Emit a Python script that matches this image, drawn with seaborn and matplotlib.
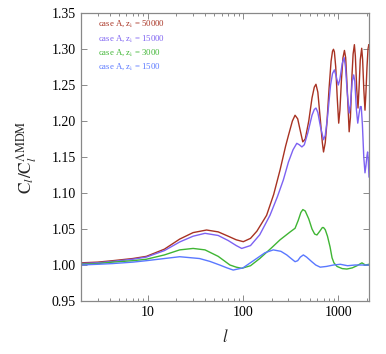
import numpy as np
import pandas as pd
import matplotlib
matplotlib.use("Agg")
import matplotlib.pyplot as plt
import seaborn as sns
from matplotlib.ticker import FixedLocator, FixedFormatter, NullFormatter, LogLocator

# values
l_50000 = [2, 3, 4.3, 7, 9.7, 15, 21.7, 30, 41.5, 55, 70, 85, 100.8, 120, 140, 177, 210, 245,
           280, 300, 330, 352, 375, 400, 424, 450, 490, 530, 560, 583, 610, 650, 680,
           700, 730, 760, 800, 840, 870, 890, 910, 940, 975, 1010, 1040, 1080, 1120, 1160,
           1195, 1240, 1300, 1340, 1390, 1430, 1475, 1510, 1560, 1610, 1650, 1700, 1760,
           1800, 1850, 1905, 1950, 2000, 2050, 2090, 2100]
r_50000 = [1.003, 1.004, 1.006, 1.009, 1.012, 1.022, 1.036, 1.045, 1.0486, 1.046, 1.040, 1.035, 1.0324, 1.037, 1.047, 1.069, 1.098, 1.132,
           1.165, 1.180, 1.200, 1.208, 1.203, 1.186, 1.171, 1.175, 1.200, 1.232, 1.247, 1.251, 1.240, 1.200, 1.170,
           1.157, 1.170, 1.198, 1.245, 1.283, 1.297, 1.2996, 1.296, 1.275, 1.232, 1.197, 1.215, 1.258, 1.288, 1.298,
           1.288, 1.245, 1.185, 1.205, 1.262, 1.293, 1.306, 1.290, 1.245, 1.218, 1.245, 1.285, 1.301,
           1.285, 1.245, 1.215, 1.240, 1.275, 1.300, 1.306, 1.305]

l_15000 = [2, 3, 4.3, 7, 9.7, 15, 21.7, 30, 40, 55, 70, 85, 97, 120, 150, 192, 230, 265,
           300, 335, 367, 390, 415, 440, 480, 530, 560, 583, 610, 650, 700, 730, 770, 830,
           870, 910, 950, 1000, 1040, 1100, 1150, 1190, 1240, 1300, 1340, 1400, 1450, 1490,
           1550, 1600, 1650, 1700, 1740, 1790, 1850, 1905, 1950, 2000, 2030, 2060, 2100]
r_15000 = [1.002, 1.003, 1.005, 1.008, 1.011, 1.020, 1.032, 1.040, 1.044, 1.041, 1.034, 1.027, 1.023, 1.027, 1.042, 1.069, 1.095, 1.118,
           1.143, 1.160, 1.169, 1.167, 1.164, 1.167, 1.184, 1.208, 1.216, 1.218, 1.212, 1.192, 1.174, 1.180, 1.205, 1.250,
           1.266, 1.271, 1.262, 1.250, 1.258, 1.280, 1.288, 1.275, 1.240, 1.211, 1.222, 1.255, 1.264, 1.255,
           1.215, 1.197, 1.210, 1.220, 1.220, 1.195, 1.150, 1.128, 1.138, 1.152, 1.157, 1.148, 1.122]

l_3000 = [2, 3, 4.3, 7, 9.7, 15, 21.7, 30, 40, 55, 73, 85, 97, 120, 150, 200, 245, 313,
          352, 380, 405, 425, 450, 490, 530, 565, 597, 640, 680, 700, 730, 770, 820, 860,
          900, 970, 1100, 1230, 1400, 1570, 1770, 1920, 2100]
r_3000 = [1.001, 1.002, 1.004, 1.006, 1.008, 1.014, 1.021, 1.023, 1.021, 1.012, 1.000, 0.997, 0.9954, 0.999, 1.009, 1.024, 1.035, 1.046,
          1.051, 1.062, 1.073, 1.077, 1.075, 1.064, 1.050, 1.043, 1.0417, 1.047, 1.052, 1.052, 1.049, 1.040, 1.025, 1.010,
          1.003, 0.998, 0.995, 0.9944, 0.996, 0.999, 1.003, 1.000, 1.001]

l_1500 = [2, 3, 4.3, 7, 9.7, 15, 21.7, 35, 45, 57, 68, 79, 100, 139, 170, 208, 250, 288,
          320, 352, 375, 400, 430, 465, 527, 580, 646, 750, 890, 1050, 1250, 1500, 1800, 2100]
r_1500 = [1.000, 1.001, 1.002, 1.004, 1.006, 1.009, 1.0115, 1.009, 1.005, 1.000, 0.996, 0.993, 0.996, 1.009, 1.017, 1.021, 1.019, 1.014,
          1.009, 1.0046, 1.006, 1.011, 1.014, 1.011, 1.0046, 1.000, 0.997, 0.998, 1.000, 1.001, 0.999, 1.000, 1.000, 1.000]

labels = ["case A, z$_\\mathrm{i}$ = 50000", "case A, z$_\\mathrm{i}$ = 15000",
          "case A, z$_\\mathrm{i}$ = 3000", "case A, z$_\\mathrm{i}$ = 1500"]
colors = ["#a83222", "#7d62f2", "#3fb534", "#5a78ff"]

frames = []
for lab, ls, rs in zip(labels, [l_50000, l_15000, l_3000, l_1500], [r_50000, r_15000, r_3000, r_1500]):
    frames.append(pd.DataFrame({"l": ls, "ratio": rs, "case": lab}))
df = pd.concat(frames, ignore_index=True)

sns.set_style("ticks")
plt.rcParams["font.family"] = ["Liberation Serif", "DejaVu Serif"]
plt.rcParams["mathtext.fontset"] = "stix"

fig = plt.figure(figsize=(3.86, 3.54), dpi=100)
ax = fig.add_axes([0.2098, 0.1497, 0.7462, 0.8136])

sns.lineplot(data=df, x="l", y="ratio", hue="case", palette=dict(zip(labels, colors)),
             hue_order=labels, sort=True, estimator=None, lw=1.0, legend=False, ax=ax)

ax.set_xscale("log")
ax.set_xlim(2, 2100)
ax.set_ylim(0.95, 1.35)
ax.xaxis.set_major_locator(FixedLocator([10, 100, 1000]))
ax.xaxis.set_major_formatter(FixedFormatter(["10", "100", "1000"]))
ax.xaxis.set_minor_locator(LogLocator(base=10, subs=np.arange(2, 10)))
ax.xaxis.set_minor_formatter(NullFormatter())
ax.set_yticks(np.arange(0.95, 1.351, 0.05))
ax.set_yticklabels([f"{v:.2f}" for v in np.arange(0.95, 1.351, 0.05)])

ax.tick_params(which="both", direction="in", top=True, right=True, colors="#777777",
               labelcolor="black", labelsize=10, width=0.6)
ax.tick_params(which="major", length=4)
ax.tick_params(which="minor", length=2)
for s in ax.spines.values():
    s.set_color("#888888")
    s.set_linewidth(0.9)

ax.set_xlabel(r"$\mathit{l}$", fontsize=12, labelpad=7)
ax.set_ylabel(r"$\mathrm{C}_{\mathit{l}}/\mathrm{C}_{\mathit{l}}^{\Lambda\mathrm{MDM}}$", fontsize=12.5, labelpad=9)

for i, (lab, c) in enumerate(zip(labels, colors)):
    ax.text(0.06, 0.962 - i * 0.05, lab, color=c, fontsize=6.3, transform=ax.transAxes, va="center")

fig.savefig("out.png", dpi=100)
